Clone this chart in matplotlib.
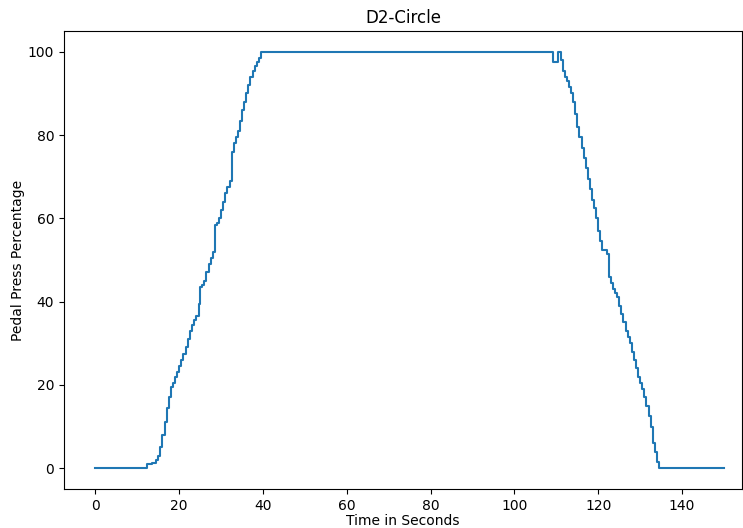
import matplotlib.pyplot as plt

# Valores (tiempo en s, porcentaje de pedal)
tiempo = [0, 12.2, 13.5, 14.5, 15, 15.5, 16, 16.5, 17, 17.5, 18, 18.5, 19, 19.5, 20, 20.5, 21,
          21.5, 22, 22.5, 23, 23.5, 24, 24.8, 25, 25.5, 26, 26.5, 27, 27.5, 28, 28.5, 29, 29.5,
          30, 30.5, 31, 31.5, 32, 32.5, 33, 33.5, 34, 34.5, 35, 35.5, 36, 36.5, 37, 37.5, 38,
          38.5, 39, 39.5,
          109.3, 110.3, 111, 111.5, 112, 112.5, 113, 113.5, 114, 114.5, 115, 115.5, 116, 116.5,
          117, 117.5, 118, 118.5, 119, 119.5, 120, 120.5, 121, 122, 122.5, 123, 123.5, 124,
          124.5, 125, 125.5, 126, 126.5, 127, 127.5, 128, 128.5, 129, 129.5, 130, 130.5, 131,
          131.5, 132, 132.5, 133, 133.5, 134, 134.5, 150]
pedal = [0, 1, 1.2, 2, 3, 5, 8, 11, 14.5, 17, 19.5, 20.5, 22, 23, 24.5, 26, 27.5,
         29, 31, 33, 34.5, 35.5, 36.5, 39.5, 43.5, 44, 45, 47, 49, 50.5, 52, 58.5, 59, 60,
         62, 64, 66, 67.5, 69, 76, 78, 79.5, 81, 83.5, 86, 88, 90, 92, 94, 95.5, 96.5,
         97.5, 98.5, 100,
         97.5, 100, 98, 95.5, 94, 93, 91.5, 90, 88, 85, 82, 79.5, 77, 74.5,
         72, 69.5, 67, 64.5, 62.5, 60, 57, 54.5, 52.5, 51.5, 46, 44.5, 43, 42,
         41, 39, 37, 35, 33, 31.5, 30, 28, 26, 24, 22, 20.5, 19, 17,
         15, 12.5, 10, 6, 4, 1.5, 0, 0]

fig = plt.figure(figsize=(7.43, 5.28), dpi=100)
ax = fig.add_axes([64 / 743, 39 / 528, 678 / 743, 458 / 528])

ax.plot(tiempo, pedal, drawstyle='steps-post', color='#1f77b4')

ax.set_xlim(-7.5, 154.3)
ax.set_ylim(-5, 105)
ax.set_title('D2-Circle')
ax.set_xlabel('Time in Seconds', labelpad=1)
ax.set_ylabel('Pedal Press Percentage', labelpad=2)

fig.savefig('out.png', dpi=100)
